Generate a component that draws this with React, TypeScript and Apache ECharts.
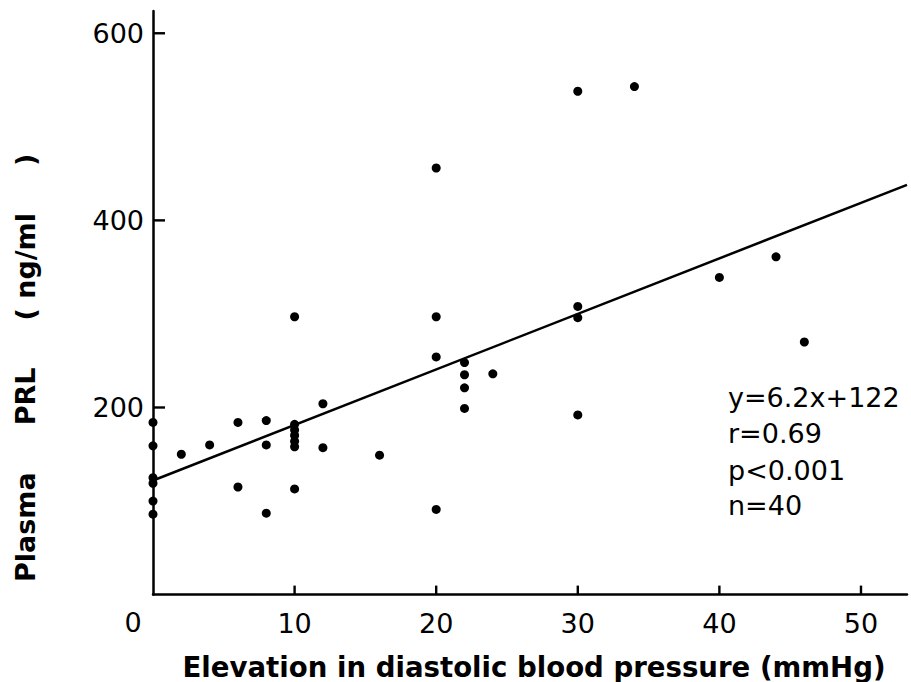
import React, { useEffect, useRef } from "react";
import * as echarts from "echarts";

// Data
const pointsX = [0, 0, 0, 0, 0, 0, 2, 4, 6, 6, 8, 8, 8, 10, 10, 10, 10, 10, 10, 10, 12, 12, 16, 20, 20, 20, 20, 22, 22, 22, 22, 24, 30, 30, 30, 30, 34, 40, 44, 46];
const pointsY = [184, 159, 125, 119, 100, 86, 150, 160, 184, 115, 186, 160, 87, 182, 176, 170, 164, 158, 297, 113, 204, 157, 149, 456, 297, 254, 91, 248, 235, 221, 199, 236, 538, 308, 296, 192, 543, 339, 361, 270];
const fitX = [0, 53.25];
const fitY = [122, 438];
const xTickValues = [10, 20, 30, 40, 50];
const yTickValues = [200, 400, 600];
const statLines = ["y=6.2x+122", "r=0.69", "p<0.001", "n=40"];
const xName = "Elevation in diastolic blood pressure (mmHg)";
const yName = "Plasma     PRL     ( ng/ml     )";

export default function App() {
  const ref = useRef<HTMLDivElement>(null);
  useEffect(() => {
    if (!ref.current) return;
    const chart = echarts.init(ref.current, undefined, { renderer: "svg" });
    const font = "DejaVu Sans";
    const option: any = {
      animation: false,
      backgroundColor: "#fff",
      grid: { left: 153, top: 11, width: 754, height: 583.6, containLabel: false },
      xAxis: {
        type: "value",
        min: 0,
        max: 53.25,
        interval: 10,
        axisLine: { show: true, lineStyle: { color: "#000", width: 2.5 } },
        axisTick: { show: false },
        axisLabel: {
          margin: 15, fontSize: 27, color: "#000", fontFamily: font,
          formatter: (v: number) => (xTickValues.indexOf(v) >= 0 ? String(v) : ""),
        },
        splitLine: { show: false },
      },
      yAxis: {
        type: "value",
        min: 0,
        max: 623.8,
        interval: 200,
        axisLine: { show: true, lineStyle: { color: "#000", width: 2.5 } },
        axisTick: { show: false },
        axisLabel: {
          margin: 9, fontSize: 27, color: "#000", fontFamily: font,
          formatter: (v: number) => (yTickValues.indexOf(v) >= 0 ? String(v) : ""),
        },
        splitLine: { show: false },
      },
      series: [
        {
          type: "line",
          data: fitX.map((x, i) => [x, fitY[i]]),
          showSymbol: false,
          symbol: "none",
          lineStyle: { color: "#000", width: 2.5 },
          z: 2,
        },
        {
          type: "scatter",
          data: pointsX.map((x, i) => [x, pointsY[i]]),
          symbol: "circle",
          symbolSize: 9,
          itemStyle: { color: "#000", opacity: 1 },
          clip: false,
          z: 3,
        },
      ],
    };
    chart.setOption(option);

    const tickRects: any[] = [];
    xTickValues.forEach((v) => {
      const p = chart.convertToPixel({ gridIndex: 0 }, [v, 0]) as number[];
      tickRects.push({
        type: "rect",
        z: 100,
        shape: { x: p[0] - 1.2, y: p[1] - 9, width: 2.4, height: 9 },
        style: { fill: "#000" },
      });
    });
    yTickValues.forEach((v) => {
      const p = chart.convertToPixel({ gridIndex: 0 }, [0, v]) as number[];
      tickRects.push({
        type: "rect",
        z: 100,
        shape: { x: p[0], y: p[1] - 1.2, width: 12, height: 2.4 },
        style: { fill: "#000" },
      });
    });

    chart.setOption({
      graphic: [
        ...tickRects,
        {
          type: "text",
          x: 133,
          y: 622,
          style: { text: "0", fontSize: 27, fontFamily: font, fill: "#000", textAlign: "center", textVerticalAlign: "middle" },
        },
        {
          type: "text",
          x: 534,
          y: 667,
          style: { text: xName, fontSize: 27.6, fontWeight: "bold", fontFamily: font, fill: "#000", textAlign: "center", textVerticalAlign: "middle" },
        },
        {
          type: "text",
          x: 25,
          y: 582,
          rotation: Math.PI / 2,
          style: { text: yName, fontSize: 27, fontWeight: "bold", fontFamily: font, fill: "#000", textAlign: "left", textVerticalAlign: "middle" },
        },
        ...statLines.map((t, i) => ({
          type: "text",
          x: 728,
          y: [397, 433, 470, 505][i],
          style: { text: t, fontSize: 27, fontFamily: font, fill: "#000", textAlign: "left", textVerticalAlign: "middle" },
        })),
      ],
    });
    return () => chart.dispose();
  }, []);
  return <div ref={ref} style={{ position: "fixed", left: 0, top: 0, width: 911, height: 682, background: "#fff" }} />;
}
